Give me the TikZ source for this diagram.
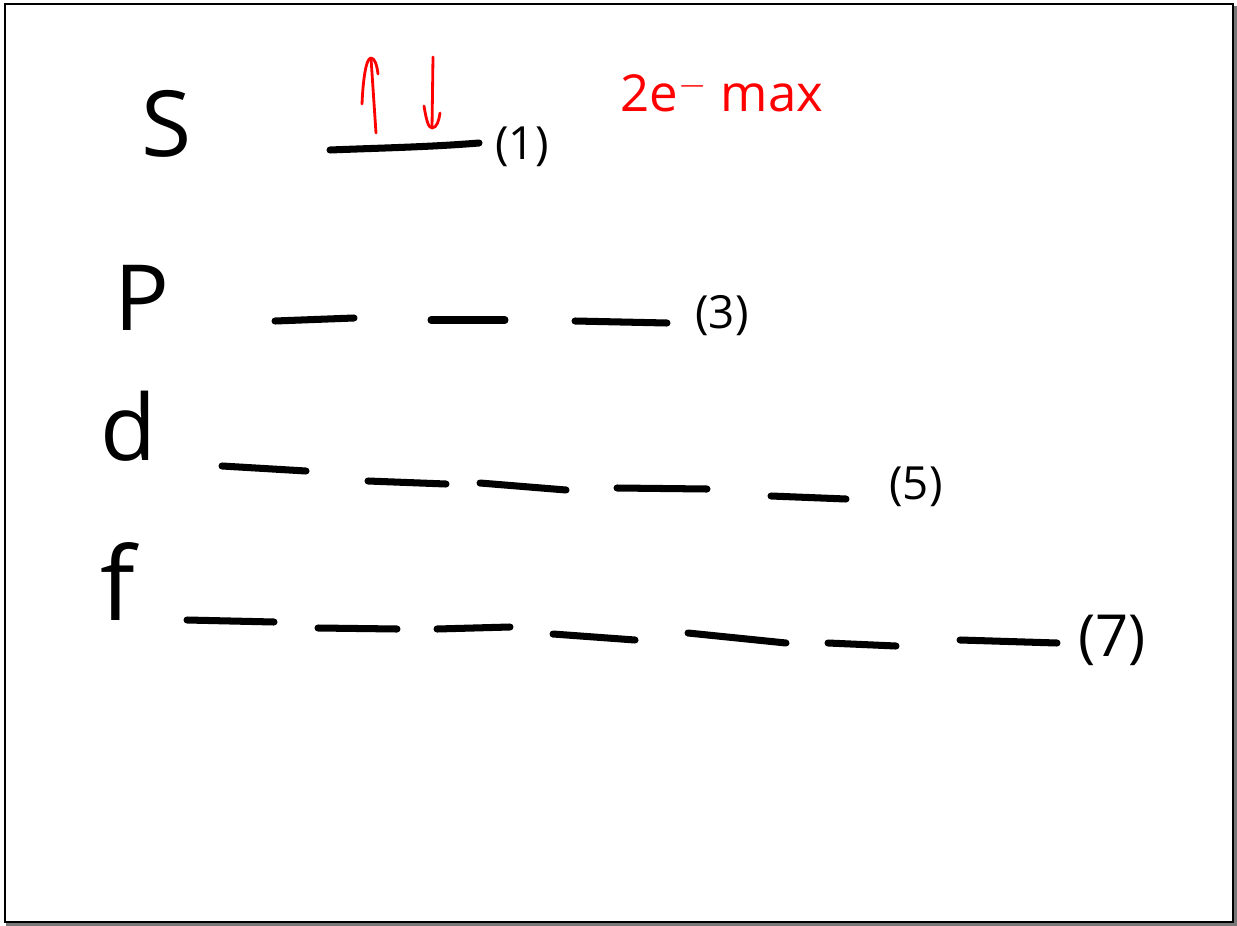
\documentclass[tikz,border=0pt]{standalone}
\usepackage{fontspec}
\setmainfont{Open Sans}
\usepackage{xcolor}
\usetikzlibrary{arrows.meta}
\definecolor{inkblack}{RGB}{0,0,0}
\definecolor{inkred}{RGB}{255,0,0}
\definecolor{framegray}{RGB}{120,120,120}

\begin{document}
\begin{tikzpicture}[
    x=0.02cm, y=-0.02cm,
    orbital/.style={inkblack, line width=4pt, line cap=round},
    spin/.style={inkred, line width=1.6pt, line cap=round, line join=round},
    shell/.style={text=inkblack, font=\fontsize{52}{56}\selectfont, inner sep=0pt},
    count/.style={text=inkblack, font=\fontsize{26}{28}\selectfont, inner sep=0pt},
    note/.style={text=inkred, font=\fontsize{29}{31}\selectfont, inner sep=0pt}
]

% Page & Frame
\useasboundingbox (0,0) rectangle (1237,926);
\fill[white] (0,0) rectangle (1237,926);
\fill[framegray] (1234,6) rectangle (1237,926);
\fill[framegray] (6,923) rectangle (1237,926);
\draw[inkblack, line width=1.6pt] (5,4) rectangle (1233,922);

% Subshell Letters
\node[shell] (s) at (167,124) {S};
\node[shell] (p) at (142,298) {P};
\node[shell] (d) at (128,426) {d};
\node[shell, font=\fontsize{58}{62}\selectfont] (f) at (118,582) {f};

% Orbital Counts
\node[count] (n1) at (522,147) {(1)};
\node[count] (n3) at (722,316) {(3)};
\node[count] (n5) at (916,487) {(5)};
\node[count, font=\fontsize{33}{35}\selectfont] (n7) at (1112,640) {(7)};

% s Orbital
\draw[orbital] (330,150) .. controls (380,148) and (430,147) .. (479,143);

% p Orbitals
\foreach \xa/\ya/\xb/\yb in {275/321/354/318, 431/320/505/320, 575/321/667/323}
    \draw[orbital] (\xa,\ya) -- (\xb,\yb);

% d Orbitals
\foreach \xa/\ya/\xb/\yb in {222/466/306/471, 368/481/446/484, 480/483/566/490, 617/488/707/489, 771/496/846/499}
    \draw[orbital] (\xa,\ya) -- (\xb,\yb);

% f Orbitals
\foreach \xa/\ya/\xb/\yb in {187/620/274/622, 318/628/397/629, 437/629/510/627, 553/634/635/640, 688/633/786/643, 828/643/896/646, 960/640/1057/643}
    \draw[orbital] (\xa,\ya) -- (\xb,\yb);

% Spin Up Electron
\coordinate (UP_TAIL) at (376,133);
\coordinate (UP_TIP) at (371,58);
\draw[spin] (UP_TAIL) -- (UP_TIP);
\draw[spin] (362,104) .. controls (363,80) and (366,58) .. (UP_TIP) .. controls (375,58) and (377,66) .. (378,74);

% Spin Down Electron
\coordinate (DN_TAIL) at (433,57);
\coordinate (DN_TIP) at (432,128);
\draw[spin] (DN_TAIL) -- (DN_TIP);
\draw[spin] (424,106) .. controls (426,118) and (428,128) .. (DN_TIP) .. controls (437,128) and (439,120) .. (440,113);

% Capacity Note
\node[note] (max) at (722,93) {2e$^{-}$ max};

\end{tikzpicture}
\end{document}
